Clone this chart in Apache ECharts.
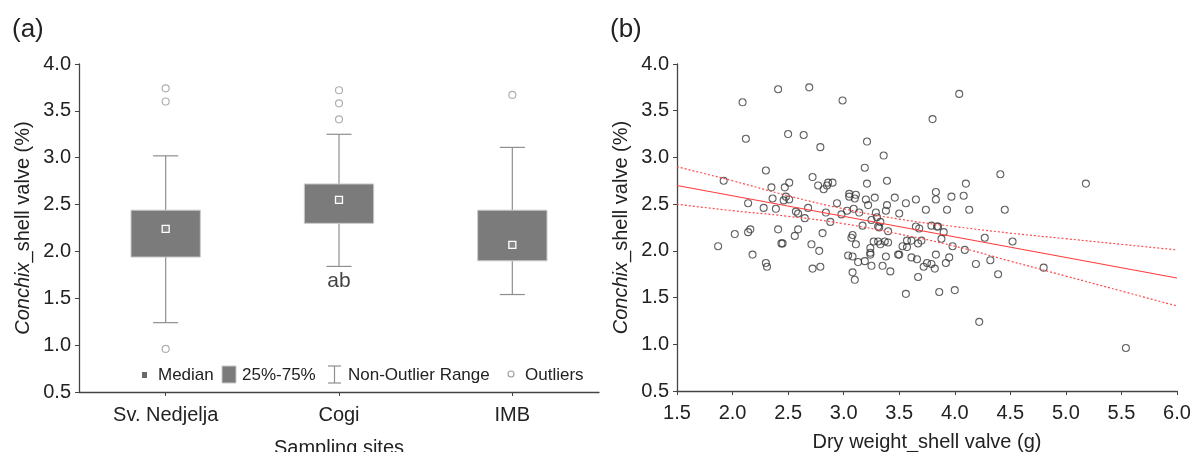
<!DOCTYPE html>
<html>
<head>
<meta charset="utf-8">
<script src="https://cdn.jsdelivr.net/npm/echarts@6/dist/echarts.min.js"></script>
<style>
html,body{margin:0;padding:0;background:#fff;}
#c{width:1197px;height:452px;}
</style>
</head>
<body>
<div id="c"></div>
<script>
// ---------- Panel (a): box plot ----------
const categories = ['Sv. Nedjelja', 'Cogi', 'IMB'];
const whiskerLow  = [1.24, 1.84, 1.54];
const q1          = [1.94, 2.30, 1.90];
const medians     = [2.24, 2.55, 2.07];
const q3          = [2.44, 2.72, 2.44];
const whiskerHigh = [3.02, 3.25, 3.11];
const outliers = [[0, 3.74], [0, 3.60], [0, 0.96], [1, 3.72], [1, 3.58], [1, 3.41], [2, 3.67]];
const groupLetters = ['', 'ab', ''];
const legendLabels = ['Median', '25%-75%', 'Non-Outlier Range', 'Outliers'];

// ---------- Panel (b): scatter ----------
const dryWeight = [1.87,1.92,2.02,2.09,2.12,2.14,2.14,2.16,2.18,2.28,2.30,2.31,2.30,2.35,2.36,2.39,2.41,2.41,2.44,2.45,2.46,2.47,2.48,2.50,2.51,2.51,2.56,2.57,2.59,2.59,2.64,2.65,2.68,2.69,2.71,2.72,2.72,2.77,2.78,2.79,2.79,2.81,2.82,2.84,2.85,2.86,2.88,2.90,2.94,2.98,2.99,3.03,3.04,3.05,3.05,3.07,3.08,3.08,3.08,3.09,3.10,3.10,3.11,3.11,3.13,3.14,3.17,3.19,3.19,3.20,3.21,3.21,3.22,3.24,3.24,3.24,3.25,3.25,3.27,3.28,3.29,3.30,3.31,3.31,3.32,3.33,3.33,3.35,3.36,3.37,3.38,3.38,3.39,3.39,3.40,3.40,3.42,3.46,3.49,3.50,3.50,3.53,3.56,3.56,3.57,3.57,3.61,3.61,3.65,3.65,3.66,3.67,3.67,3.68,3.70,3.72,3.74,3.75,3.79,3.79,3.80,3.82,3.83,3.83,3.83,3.84,3.85,3.86,3.88,3.90,3.92,3.93,3.95,3.97,3.98,4.00,4.04,4.08,4.09,4.10,4.13,4.19,4.22,4.27,4.32,4.39,4.41,4.45,4.52,4.80,5.18,5.54];
const shellPct  = [2.05,2.75,2.18,3.59,3.20,2.51,2.20,2.23,1.96,2.46,1.87,1.83,2.86,2.68,2.56,2.45,2.23,3.73,2.08,2.08,2.54,2.68,2.58,3.25,2.55,2.73,2.16,2.42,2.40,2.23,3.24,2.35,2.46,3.75,2.07,1.81,2.79,2.70,2.00,3.11,1.83,2.19,2.66,2.41,2.70,2.73,2.31,2.73,2.51,2.39,3.61,2.43,1.95,2.61,2.58,2.14,2.17,1.94,1.77,2.45,2.56,1.69,2.07,2.60,1.88,2.41,2.27,2.89,1.89,2.55,2.72,3.17,2.49,2.03,1.98,1.96,1.84,2.33,2.10,2.57,2.41,2.36,2.26,2.10,2.25,2.31,2.07,1.84,3.02,2.10,2.43,1.94,2.75,2.49,2.21,2.09,1.78,2.57,1.96,1.96,2.40,2.05,1.54,2.51,2.11,2.04,1.93,2.11,2.55,2.26,1.91,1.72,2.08,2.24,2.11,1.83,2.44,1.87,2.27,1.86,3.41,1.81,1.96,2.63,2.55,2.26,2.26,1.56,2.13,2.20,1.87,2.44,1.93,2.58,2.05,1.58,3.68,2.59,2.01,2.72,2.44,1.86,1.24,2.14,1.90,1.75,2.82,2.44,2.10,1.82,2.72,0.96];
const fitX = [1.5, 6.0];
const fitY = [2.70, 1.71];
const ciX     = [1.5, 2.0, 2.5, 3.0, 3.5, 4.0, 4.5, 5.0, 5.5, 6.0];
const ciUpper = [2.90, 2.75, 2.59, 2.45, 2.34, 2.26, 2.19, 2.13, 2.07, 2.01];
const ciLower = [2.50, 2.43, 2.37, 2.29, 2.18, 2.05, 1.89, 1.73, 1.57, 1.41];

const FONT = "'Liberation Sans', Arial, sans-serif";
const TXT = '#222';
const AX = '#444';
const TICKFS = 20;

const boxData = categories.map((c, i) => [i, whiskerLow[i], q1[i], medians[i], q3[i], whiskerHigh[i]]);
const letterData = categories.map((c, i) => ({value: [i, whiskerLow[i]], letter: groupLetters[i]})).filter(d => d.letter);

function axisCommon(extra) {
  return Object.assign({
    axisLine: {show: true, lineStyle: {color: AX, width: 1.3}},
    axisTick: {show: true, length: 4, lineStyle: {color: AX, width: 1}},
    splitLine: {show: false},
    nameTextStyle: {color: TXT, fontSize: 20, fontFamily: FONT}
  }, extra);
}

const yNameStyle = {
  color: TXT, fontSize: 20, fontFamily: FONT,
  rich: {i: {fontStyle: 'italic', fontSize: 20, fontFamily: FONT, color: TXT}}
};

function legendText(x, s) {
  return {type: 'text', x: x, y: 375, style: {text: s, fontSize: 17, fontFamily: FONT, fill: TXT, verticalAlign: 'middle', textVerticalAlign: 'middle'}};
}

const option = {
  animation: false,
  backgroundColor: '#fff',
  textStyle: {fontFamily: FONT},
  title: [
    {text: '(a)', left: 7, top: 12, textStyle: {fontSize: 26, fontWeight: 'normal', color: TXT, fontFamily: FONT}},
    {text: '(b)', left: 605, top: 12, textStyle: {fontSize: 26, fontWeight: 'normal', color: TXT, fontFamily: FONT}}
  ],
  grid: [
    {left: 79, top: 64, width: 520, height: 328, containLabel: false, outerBoundsMode: 'none'},
    {left: 677, top: 64, width: 500, height: 327, containLabel: false, outerBoundsMode: 'none'}
  ],
  xAxis: [
    axisCommon({
      type: 'category', gridIndex: 0, data: categories,
      axisTick: {show: true, alignWithLabel: true, length: 4, lineStyle: {color: AX}},
      axisLabel: {color: TXT, fontSize: TICKFS, fontFamily: FONT, margin: 13},
      name: 'Sampling sites', nameLocation: 'middle', nameGap: 46
    }),
    axisCommon({
      type: 'value', gridIndex: 1, min: 1.5, max: 6.0, interval: 0.5,
      axisLabel: {color: TXT, fontSize: TICKFS, fontFamily: FONT, margin: 12, formatter: v => v.toFixed(1)},
      name: 'Dry weight_shell valve (g)', nameLocation: 'middle', nameGap: 41
    })
  ],
  yAxis: [
    axisCommon({
      type: 'value', gridIndex: 0, min: 0.5, max: 4.0, interval: 0.5,
      axisLabel: {color: TXT, fontSize: TICKFS, fontFamily: FONT, margin: 8, formatter: v => v.toFixed(1)},
      name: '{i|Conchix}_shell valve (%)', nameLocation: 'middle', nameGap: 46,
      nameTextStyle: yNameStyle
    }),
    axisCommon({
      type: 'value', gridIndex: 1, min: 0.5, max: 4.0, interval: 0.5,
      axisLabel: {color: TXT, fontSize: TICKFS, fontFamily: FONT, margin: 8, formatter: v => v.toFixed(1)},
      name: '{i|Conchix}_shell valve (%)', nameLocation: 'middle', nameGap: 46,
      nameTextStyle: yNameStyle
    })
  ],
  series: [
    {
      type: 'custom', xAxisIndex: 0, yAxisIndex: 0,
      data: boxData,
      encode: {x: 0, y: [1, 2, 3, 4, 5]},
      renderItem: function (params, api) {
        const i = api.value(0);
        const low = api.coord([i, api.value(1)]);
        const b1 = api.coord([i, api.value(2)]);
        const med = api.coord([i, api.value(3)]);
        const b3 = api.coord([i, api.value(4)]);
        const high = api.coord([i, api.value(5)]);
        const band = api.size([1, 0])[0];
        const bw = band * 0.40, cw = band * 0.145;
        const x = low[0];
        const ls = {stroke: '#8e8e8e', lineWidth: 1.2};
        return {
          type: 'group',
          children: [
            {type: 'line', shape: {x1: x, y1: high[1], x2: x, y2: b3[1]}, style: ls},
            {type: 'line', shape: {x1: x, y1: b1[1], x2: x, y2: low[1]}, style: ls},
            {type: 'line', shape: {x1: x - cw / 2, y1: high[1], x2: x + cw / 2, y2: high[1]}, style: ls},
            {type: 'line', shape: {x1: x - cw / 2, y1: low[1], x2: x + cw / 2, y2: low[1]}, style: ls},
            {type: 'rect', shape: {x: x - bw / 2, y: b3[1], width: bw, height: b1[1] - b3[1]},
              style: {fill: '#7b7b7b', stroke: '#c9c9c9', lineWidth: 1}},
            {type: 'rect', shape: {x: med[0] - 3.5, y: med[1] - 3.5, width: 7, height: 7},
              style: {fill: '#8a8a8a', stroke: '#ffffff', lineWidth: 1.3}}
          ]
        };
      },
      z: 2
    },
    {
      type: 'scatter', xAxisIndex: 0, yAxisIndex: 0,
      data: outliers, symbol: 'circle', symbolSize: 7,
      itemStyle: {color: '#ffffff', borderColor: '#9c9c9c', borderWidth: 1.2}, z: 3
    },
    {
      type: 'scatter', xAxisIndex: 0, yAxisIndex: 0,
      data: letterData, symbolSize: 0,
      label: {show: true, position: 'bottom', distance: 4, formatter: p => p.data.letter,
        fontSize: 21, color: '#111', fontFamily: FONT}
    },
    {
      type: 'scatter', xAxisIndex: 1, yAxisIndex: 1,
      data: dryWeight.map((x, i) => [x, shellPct[i]]),
      symbol: 'circle', symbolSize: 7,
      itemStyle: {color: 'rgba(0,0,0,0)', borderColor: '#3a3a3a', borderWidth: 1.1}, z: 2
    },
    {
      type: 'line', xAxisIndex: 1, yAxisIndex: 1,
      data: fitX.map((x, i) => [x, fitY[i]]), symbol: 'none',
      lineStyle: {color: '#ff3b3b', width: 1.1}, z: 3
    },
    {
      type: 'line', xAxisIndex: 1, yAxisIndex: 1, smooth: true,
      data: ciX.map((x, i) => [x, ciUpper[i]]), symbol: 'none',
      lineStyle: {color: '#ff4a4a', width: 1.2, type: [2, 2]}, z: 3
    },
    {
      type: 'line', xAxisIndex: 1, yAxisIndex: 1, smooth: true,
      data: ciX.map((x, i) => [x, ciLower[i]]), symbol: 'none',
      lineStyle: {color: '#ff4a4a', width: 1.2, type: [2, 2]}, z: 3
    }
  ],
  graphic: [
    {type: 'rect', shape: {x: 142, y: 372, width: 5, height: 6}, style: {fill: '#6a6a6a'}},
    legendText(158, legendLabels[0]),
    {type: 'rect', shape: {x: 222, y: 366, width: 14, height: 17}, style: {fill: '#7b7b7b', stroke: '#c9c9c9', lineWidth: 1}},
    legendText(242, legendLabels[1]),
    {type: 'line', shape: {x1: 334.5, y1: 366, x2: 334.5, y2: 383}, style: {stroke: '#8e8e8e', lineWidth: 1.2}},
    {type: 'line', shape: {x1: 328, y1: 366, x2: 341, y2: 366}, style: {stroke: '#8e8e8e', lineWidth: 1.2}},
    {type: 'line', shape: {x1: 328, y1: 383, x2: 341, y2: 383}, style: {stroke: '#8e8e8e', lineWidth: 1.2}},
    legendText(348, legendLabels[2]),
    {type: 'circle', shape: {cx: 511, cy: 374, r: 3}, style: {fill: '#fff', stroke: '#9c9c9c', lineWidth: 1.1}},
    legendText(525, legendLabels[3])
  ]
};

const chart = echarts.init(document.getElementById('c'), null, {renderer: 'canvas'});
chart.setOption(option);
</script>
</body>
</html>
